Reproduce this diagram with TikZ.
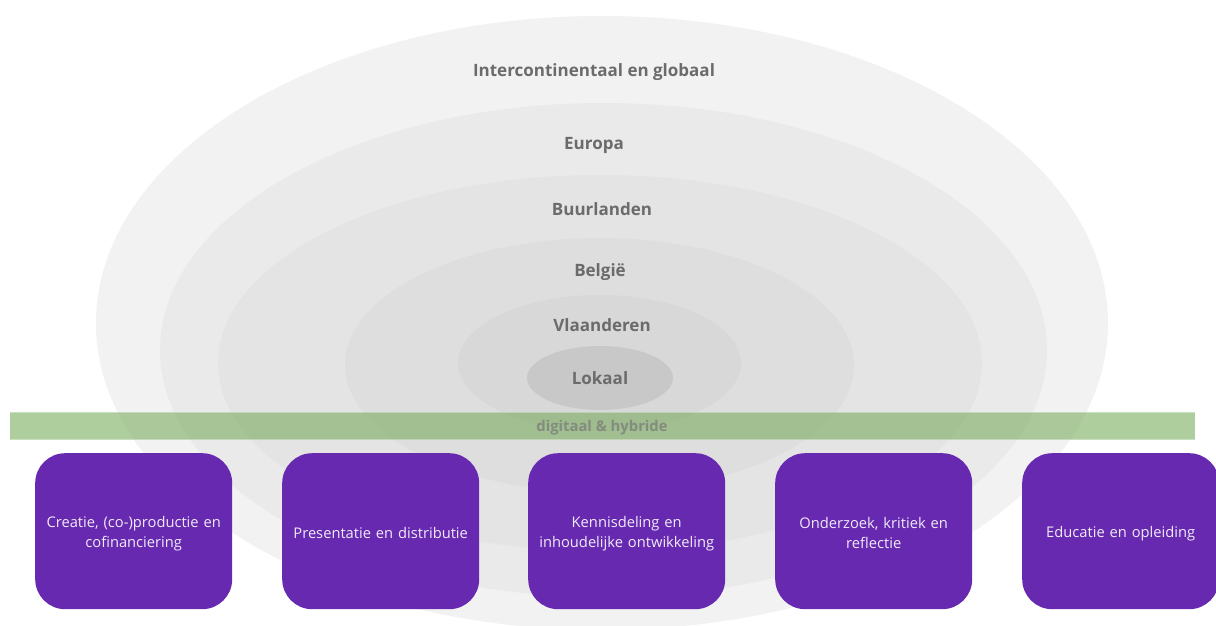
\documentclass[tikz,border=0pt]{standalone}
\usepackage{fontspec}
\setmainfont{Open Sans}
\usetikzlibrary{shapes.geometric}
\definecolor{ring1}{HTML}{F2F2F2}
\definecolor{ring2}{HTML}{EAEAEA}
\definecolor{ring3}{HTML}{E4E4E4}
\definecolor{ring4}{HTML}{DEDEDE}
\definecolor{ring5}{HTML}{D8D8D8}
\definecolor{ring6}{HTML}{C8C8C8}
\definecolor{labelgray}{HTML}{6B6B6B}
\definecolor{bargreen}{HTML}{6FA650}
\definecolor{barlabel}{HTML}{838C7E}
\definecolor{boxpurple}{HTML}{6629B0}
\definecolor{boxtext}{HTML}{F1EAF8}
\tikzset{
  ring/.style={ellipse, inner sep=0pt, draw=none},
  ringlabel/.style={font=\fontsize{17}{20}\selectfont\bfseries, text=labelgray, inner sep=0pt, anchor=center},
  areabox/.style={rounded corners=30pt, fill=boxpurple, draw=none, minimum width=197pt, minimum height=156pt, inner sep=0pt, anchor=north west},
  boxlabel/.style={text=boxtext, align=center, font=\fontsize{14.7}{20}\selectfont, text width=190pt, inner sep=0pt},
}
\begin{document}
\begin{tikzpicture}[x=1pt, y=-1pt]
\clip (0,0) rectangle (1216,626);
\fill[white] (0,0) rectangle (1216,626);
% rings
\node[ring, fill=ring1, minimum width=1012pt, minimum height=614pt] (r1) at (602,323) {};
\node[ring, fill=ring2, minimum width=887pt, minimum height=494pt] (r2) at (603.5,350) {};
\node[ring, fill=ring3, minimum width=764pt, minimum height=376pt] (r3) at (600,363) {};
\node[ring, fill=ring4, minimum width=509pt, minimum height=254pt] (r4) at (599.5,365) {};
\node[ring, fill=ring5, minimum width=283pt, minimum height=136pt] (r5) at (599.5,363) {};
\node[ring, fill=ring6, minimum width=146pt, minimum height=64pt] (r6) at (600,378) {};
% ring labels
\node[ringlabel] (l1) at (594,72) {Intercontinentaal en globaal};
\node[ringlabel] (l2) at (594,145) {Europa};
\node[ringlabel] (l3) at (602,209) {Buurlanden};
\node[ringlabel] (l4) at (600,272) {België};
\node[ringlabel] (l5) at (602,325) {Vlaanderen};
\node[ringlabel] (l6) at (600,378) {Lokaal};
% digital bar
\fill[bargreen, fill opacity=0.55] (10,412) rectangle (1195,440);
\draw[white, draw opacity=0.35, line width=0.8pt] (10,412.5) -- (1195,412.5);
\draw[white, draw opacity=0.35, line width=0.8pt] (10,439.5) -- (1195,439.5);
\node[font=\fontsize{14.8}{16}\selectfont\bfseries, text=barlabel, inner sep=0pt] (bar) at (602,428) {digitaal \& hybride};
% boxes
\node[areabox] (b1) at (35,453) {};
\node[areabox] (b2) at (282,453) {};
\node[areabox] (b3) at (528,453) {};
\node[areabox] (b4) at (775,453) {};
\node[areabox] (b5) at (1022,453) {};
\node[boxlabel] (t1) at ([yshift=-2pt]b1.center) {Creatie, (co-)productie en\\cofinanciering};
\node[boxlabel] (t2) at ([yshift=-2pt]b2.center) {Presentatie en distributie};
\node[boxlabel] (t3) at ([yshift=-2pt]b3.center) {Kennisdeling en\\inhoudelijke ontwikkeling};
\node[boxlabel] (t4) at ([yshift=-2pt]b4.center) {Onderzoek, kritiek en\\reflectie};
\node[boxlabel] (t5) at ([yshift=-2pt]b5.center) {Educatie en opleiding};
\end{tikzpicture}
\end{document}
